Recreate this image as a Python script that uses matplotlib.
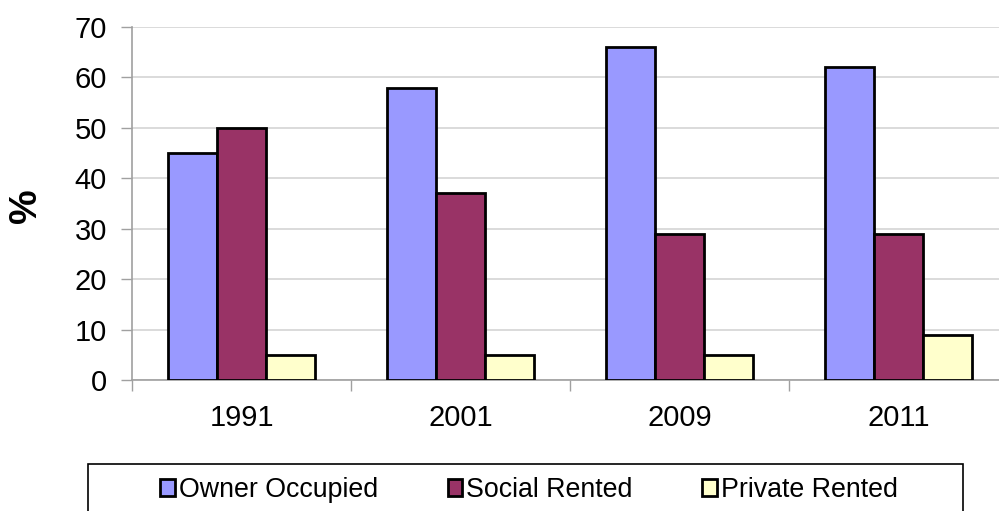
import matplotlib.pyplot as plt
import numpy as np
from matplotlib.patches import Rectangle

plt.rcParams['font.family'] = ['Liberation Sans', 'DejaVu Sans']

# data
years = ['1991', '2001', '2009', '2011']
owner_occupied = [45, 58, 66, 62]
social_rented = [50, 37, 29, 29]
private_rented = [5, 5, 5, 9]
series_names = ['Owner Occupied', 'Social Rented', 'Private Rented']
colors = ['#9999FF', '#993366', '#FFFFCC']

W, H = 999, 511
fig = plt.figure(figsize=(W / 100, H / 100), dpi=100)
ax = fig.add_axes([132 / W, 1 - 380 / H, 876 / W, 353 / H])

x = np.arange(len(years))
w = 0.224
for i, vals in enumerate([owner_occupied, social_rented, private_rented]):
    ax.bar(x + (i - 1) * w, vals, w, color=colors[i], edgecolor='black',
           linewidth=2, label=series_names[i], zorder=3)

ax.set_xlim(-0.5, len(years) - 0.5)
ax.set_ylim(0, 70)
ax.set_yticks(np.arange(0, 71, 10))
ax.set_xticks(x)
ax.set_xticklabels(years)
ax.set_xticks(np.arange(-0.5, len(years), 1), minor=True)
ax.tick_params(axis='x', which='major', length=0, pad=17, labelsize=21)
ax.tick_params(axis='x', which='minor', length=8, width=1, color='#a0a0a0')
ax.tick_params(axis='y', length=8, width=1, color='#a0a0a0', pad=10, labelsize=21)
ax.yaxis.grid(True, color='#d4d4d4', linewidth=1.2, zorder=0)
for s in ['top', 'right']:
    ax.spines[s].set_visible(False)
for s in ['left', 'bottom']:
    ax.spines[s].set_color('#a0a0a0')
    ax.spines[s].set_linewidth(1.2)

fig.text(26 / W, 1 - 206 / H, '%', rotation=90, fontsize=28, fontweight='bold',
         ha='center', va='center')

# legend box runs off the bottom edge, as in the original
fig.add_artist(Rectangle((88 / W, -0.05), 875 / W, 1 - 464 / H + 0.05,
                         transform=fig.transFigure, facecolor='white',
                         edgecolor='black', linewidth=1.2, clip_on=False))
handles, labels = ax.get_legend_handles_labels()
leg = fig.legend(handles, labels, loc='center', ncol=3,
                 bbox_to_anchor=(529 / W, 1 - 490 / H),
                 fontsize=19.3, frameon=False,
                 handlelength=0.55, handleheight=0.55, handletextpad=0.15,
                 columnspacing=2.6, borderpad=0, borderaxespad=0)
for h in leg.legend_handles:
    h.set_linewidth(2)

fig.savefig('out.png', dpi=100)
